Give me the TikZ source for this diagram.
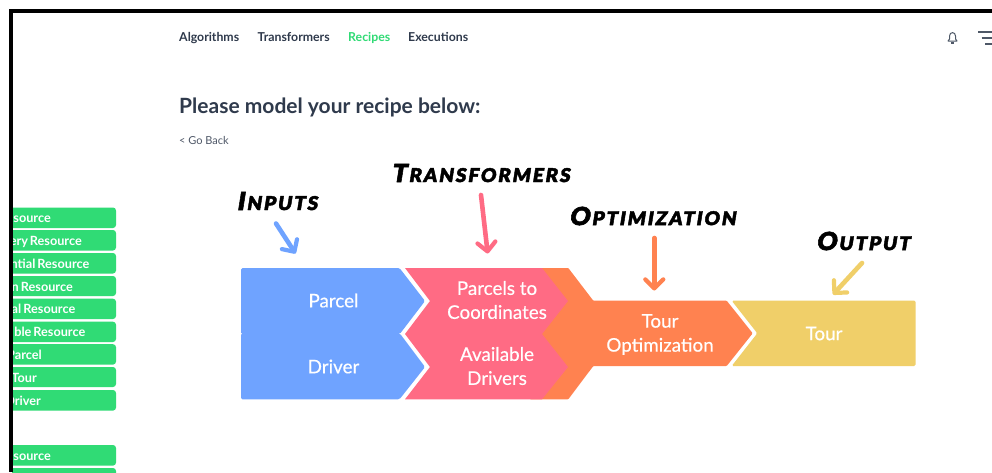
\documentclass[tikz,border=0pt]{standalone}
\usepackage{fontspec}
\setmainfont{Lato}
\newfontfamily\hand[FakeBold=2.2,FakeSlant=0.16,LetterSpace=10]{Lato Black}
\newfontfamily\medf[FakeBold=0.35]{Lato}
\usetikzlibrary{arrows.meta}
\definecolor{cblue}{HTML}{6FA3FF}
\definecolor{cpink}{HTML}{FF6B84}
\definecolor{corange}{HTML}{FF8250}
\definecolor{cyellow}{HTML}{F0CF69}
\definecolor{cgreen}{HTML}{30DB75}
\definecolor{cdark}{HTML}{2F3A4C}
\newcommand{\hw}[2]{{\hand\fontsize{25}{25}\selectfont #1\kern2pt\fontsize{19}{19}\selectfont #2}}
\tikzset{
  navitem/.style={anchor=base west,inner sep=0pt,text=cdark,font=\fontsize{12.3}{12}\selectfont\bfseries},
  shapelabel/.style={text=white,align=center,inner sep=0pt,font=\medf\fontsize{18.8}{24}\selectfont},
  pilltext/.style={anchor=base east,inner sep=0pt,text=white,font=\fontsize{12.7}{13}\selectfont\bfseries},
  pill/.style={fill=cgreen,rounded corners=3pt},
  handlabel/.style={inner sep=0pt,text=black},
  note/.style={line width=4.6pt,line cap=round,-{Straight Barb[length=9pt,width=18pt,line width=4.2pt,round]}},
  iconline/.style={draw=cdark!85,line width=1.6pt},
}
\begin{document}
\begin{tikzpicture}[x=1pt,y=-1pt]
\useasboundingbox (0,0) rectangle (992,472);
\fill[white] (0,0) rectangle (992,472);
% sidebar pills, cut off by the window edge
\begin{scope}
\clip (12,13) rectangle (992,472);
\foreach \ya/\yb in {207.5/228,230/250.5,253/273.5,276/296,298.7/319,321.7/342,344.2/364.6,367/387,390/410.6,445/465.6,468/490}
  \fill[pill] (0,\ya) rectangle (116,\yb);
\node[pilltext] (p1) at (51,222.5) {source};
\node[pilltext] (p2) at (82,245) {ery\hspace{-1.2pt} Resource};
\node[pilltext] (p3) at (89.5,268) {ntial\hspace{-1.2pt} Resource};
\node[pilltext] (p4) at (73,291) {n\hspace{-1pt} Resource};
\node[pilltext] (p5) at (75.5,313.5) {al\hspace{-1pt} Resource};
\node[pilltext] (p6) at (85.5,336.5) {ble\hspace{-1.2pt} Resource};
\node[pilltext] (p7) at (42,359) {Parcel};
\node[pilltext] (p8) at (37,382) {Tour};
\node[pilltext] (p9) at (41,405) {Driver};
\node[pilltext] (p10) at (51,460) {source};
\end{scope}
% window frame
\fill[black] (9,9) rectangle (992,13);
\fill[black] (9,9) rectangle (12.5,472);
% header
\node[navitem] (n1) at (179,41.3) {Algorithms};
\node[navitem] (n2) at (257.5,41.3) {Transformers};
\node[navitem,text=cgreen] (n3) at (348,41.3) {Recipes};
\node[navitem] (n4) at (408,41.3) {Executions};
\node[anchor=base west,inner sep=0pt,text=cdark,font=\fontsize{21}{21}\selectfont\bfseries] (head) at (179,113) {Please model your recipe below:};
\node[anchor=base west,inner sep=0pt,text=cdark!85,font=\fontsize{11}{11}\selectfont] (back) at (179,144) {< Go Back};
% bell
\draw[iconline,line width=1pt,line join=round] (948,41) -- (949.5,39) -- (949.5,36) .. controls (949.5,31.5) and (955.5,31.5) .. (955.5,36) -- (955.5,39) -- (957,41) -- cycle;
\fill[cdark!85] (951,42) rectangle (954,43.5);
% menu
\draw[iconline] (978,31.7) -- (992,31.7);
\draw[iconline] (981.7,38) -- (992,38);
\draw[iconline] (985,44) -- (992,44);
% orange (behind pink)
\fill[corange,rounded corners=0.8pt] (530,268) -- (568.3,268) -- (593.3,300.7) -- (726.7,300.7) -- (752.7,333.3) -- (726.7,366) -- (593.3,366) -- (568.3,399.3) -- (530,399.3) -- cycle;
% pink
\fill[cpink] (405,268) -- (542,268) -- (568,301) -- (542,334) -- (568,367) -- (542,399.3) -- (405,399.3) -- (430,367) -- (405,334) -- (430,301) -- cycle;
% blue
\fill[cblue,rounded corners=1.5pt] (241,268) -- (399.5,268) -- (425,301) -- (399.8,334) -- (241,334) -- cycle;
\fill[cblue,rounded corners=1.5pt] (241,333.4) -- (399.8,333.4) -- (425,367) -- (399.5,399.3) -- (241,399.3) -- cycle;
% yellow
\fill[cyellow,rounded corners=1.5pt] (731.7,300.7) -- (915.7,300.7) -- (915.7,366) -- (731.7,366) -- (757.3,333.3) -- cycle;
% shape labels
\node[shapelabel] (parcel) at (333.5,300.5) {Parcel};
\node[shapelabel] (driver) at (333.5,366.5) {Driver};
\node[shapelabel] (p2c) at (497,300) {Parcels to\\Coordinates};
\node[shapelabel] (avail) at (497,366) {Available\\Drivers};
\node[shapelabel] (opt) at (660,334.5) {Tour\\Optimization};
\node[shapelabel] (tour) at (824,333.5) {Tour};
% hand labels
\node[handlabel] (linputs) at (277,201) {\hw{I}{NPUTS}};
\node[handlabel] (ltrans) at (480.5,173) {\hw{T}{RANSFORMERS}};
\node[handlabel] (lopt) at (652.5,216) {\hw{O}{PTIMIZATION}};
\node[handlabel] (loutput) at (863,241) {\hw{O}{UTPUT}};
% arrows
\coordinate (a1s) at (276,223.5);
\coordinate (a1e) at (295.5,253.5);
\coordinate (a2s) at (481,195);
\coordinate (a2e) at (487.7,253.5);
\coordinate (a3s) at (654.3,238);
\coordinate (a3e) at (654.3,290.5);
\coordinate (a4s) at (862,263);
\coordinate (a4e) at (833,294.5);
\draw[note,draw=cblue] (a1s) -- (a1e);
\draw[note,draw=cpink] (a2s) -- (a2e);
\draw[note,draw=corange] (a3s) -- (a3e);
\draw[note,draw=cyellow] (a4s) -- (a4e);
\end{tikzpicture}
\end{document}
